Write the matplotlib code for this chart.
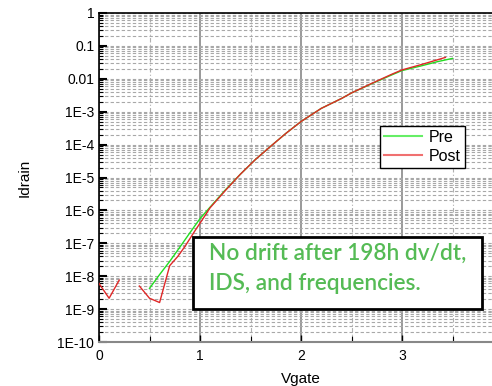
import numpy as np
import matplotlib.pyplot as plt
from matplotlib.patches import Rectangle
from matplotlib.lines import Line2D
from matplotlib.ticker import FixedLocator, FixedFormatter, NullFormatter

# Pre sweep (Vgate, log10 Idrain)
pre_v = [0.5, 0.6, 0.7, 0.8, 0.9, 1.0, 1.1, 1.25, 1.4, 1.55, 1.7, 1.85, 2.0, 2.2, 2.4, 2.5, 2.7, 2.9, 3.0, 3.2, 3.35, 3.5]
pre_logi = [-8.37, -7.95, -7.55, -7.12, -6.68, -6.25, -5.9, -5.38, -4.9, -4.45, -4.05, -3.66, -3.30, -2.9, -2.6, -2.43, -2.15, -1.88, -1.75, -1.6, -1.48, -1.38]

# Post sweep, two pieces (gap between 0.2 and 0.4 V)
post_v1 = [0.0, 0.1, 0.2]
post_logi1 = [-8.22, -8.67, -8.12]
post_v2 = [0.4, 0.5, 0.6, 0.7, 0.78, 0.85, 0.95, 1.03, 1.1, 1.25, 1.4, 1.55, 1.7, 1.85, 2.0, 2.2, 2.4, 2.5, 2.7, 2.9, 3.0, 3.2, 3.43]
post_logi2 = [-8.30, -8.67, -8.80, -7.68, -7.40, -7.10, -6.62, -6.25, -5.92, -5.40, -4.90, -4.45, -4.05, -3.66, -3.30, -2.9, -2.6, -2.43, -2.14, -1.86, -1.73, -1.56, -1.35]

ytick_vals = [1e-10, 1e-9, 1e-8, 1e-7, 1e-6, 1e-5, 1e-4, 1e-3, 1e-2, 1e-1, 1]
ytick_labels = ['1E-10', '1E-9', '1E-8', '1E-7', '1E-6', '1E-5', '1E-4', '1E-3', '0.01', '0.1', '1']

plt.rcParams['font.family'] = 'Liberation Sans'

fig = plt.figure(figsize=(4.92, 3.86), dpi=100)
W, H = 492, 386
ax = fig.add_axes([99 / W, 44 / H, 404 / W, 329 / H])

green = '#22dd22'
red = '#e02828'
ax.plot(pre_v, 10 ** np.array(pre_logi), color=green, lw=1, zorder=3)
ax.plot(post_v1, 10 ** np.array(post_logi1), color=red, lw=1, zorder=4)
ax.plot(post_v2, 10 ** np.array(post_logi2), color=red, lw=1, zorder=4)

ax.set_yscale('log')
ax.set_ylim(1e-10, 1)
ax.set_xlim(0, 4)
ax.yaxis.set_major_locator(FixedLocator(ytick_vals))
ax.yaxis.set_major_formatter(FixedFormatter(ytick_labels))
minors = [m * 10.0 ** e for e in range(-10, 0) for m in range(2, 10)]
ax.yaxis.set_minor_locator(FixedLocator(minors))
ax.yaxis.set_minor_formatter(NullFormatter())
ax.set_xticks([0, 1, 2, 3])
ax.set_xticks([0.5, 1.5, 2.5, 3.5], minor=True)

ax.tick_params(which='both', direction='in', labelsize=10)
ax.tick_params(axis='y', which='major', length=6, width=1.5)
ax.tick_params(axis='y', which='minor', length=3, width=0.8)
ax.tick_params(axis='x', which='major', length=5, width=1, pad=5)
ax.tick_params(axis='x', which='minor', length=4, width=0.8)

ax.grid(True, axis='y', which='both', color='#a8a8a8', lw=0.8, ls=(0, (3, 2)))
ax.grid(True, axis='x', which='major', color='#999999', lw=1.4, ls='-')
ax.grid(True, axis='x', which='minor', color='#b0b0b0', lw=0.8, ls=(0, (4, 2, 1, 2)))
ax.set_axisbelow(True)

ax.spines['top'].set_linewidth(1.2)
ax.spines['left'].set_linewidth(1.2)
ax.spines['bottom'].set_color('#888888')
ax.spines['bottom'].set_linewidth(1.5)

ax.set_ylabel('Idrain', fontsize=11)
ax.yaxis.set_label_coords(-67 / 404, 0.5)
ax.set_xlabel('Vgate', fontsize=11)
ax.xaxis.set_label_coords(202 / 404, -30 / 329)

handles = [Line2D([], [], color='#66ee66', lw=1.5), Line2D([], [], color='#f07070', lw=1.5)]
leg = fig.legend(handles, ['Pre', 'Post'], loc='upper left',
                 bbox_to_anchor=(380 / W, 1 - 126 / H), fontsize=11.5,
                 fancybox=False, edgecolor='black', framealpha=1, borderaxespad=0,
                 handlelength=2.4, borderpad=0.25, labelspacing=0.25, handletextpad=0.4)
leg.get_frame().set_linewidth(1)

box = Rectangle((193 / W, 1 - 309 / H), 289 / W, 72 / H, transform=fig.transFigure,
                facecolor='white', edgecolor='black', lw=2, zorder=10)
fig.patches.append(box)
fig.text(209 / W, 1 - 260 / H, 'No drift after 198h dv/dt,', color='#55bb55',
         fontsize=16.3, family='Lato', weight=600, va='baseline', zorder=11)
fig.text(209 / W, 1 - 290 / H, 'IDS, and frequencies.', color='#55bb55',
         fontsize=16.3, family='Lato', weight=600, va='baseline', zorder=11)

fig.savefig('out.png', dpi=100)
